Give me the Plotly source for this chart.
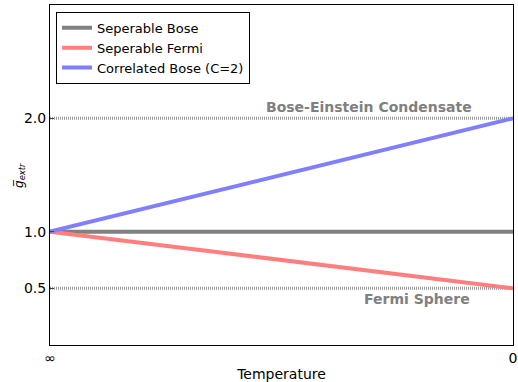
import plotly.graph_objects as go

x_pos = [0, 1]
x_ticklabels = ["∞", "0"]
sep_bose = [1.0, 1.0]
sep_fermi = [1.0, 0.5]
corr_bose = [1.0, 2.0]
ref_levels = [2.0, 0.5]
y_ticks = [0.5, 1.0, 2.0]

fig = go.Figure()
for lvl in ref_levels:
    fig.add_trace(go.Scatter(x=x_pos, y=[lvl, lvl], mode="lines", showlegend=False,
                             line=dict(color="#999999", width=3, dash="1px,1px"), hoverinfo="skip"))
fig.add_trace(go.Scatter(x=x_pos, y=sep_bose, mode="lines", name="Seperable Bose",
                         line=dict(color="#808080", width=4)))
fig.add_trace(go.Scatter(x=x_pos, y=sep_fermi, mode="lines", name="Seperable Fermi",
                         line=dict(color="#ff7f7f", width=4)))
fig.add_trace(go.Scatter(x=x_pos, y=corr_bose, mode="lines", name="Correlated Bose (C=2)",
                         line=dict(color="#7f7fff", width=4)))

fig.add_annotation(x=0.916, y=2.1, xref="x", yref="y", text="<b>Bose-Einstein Condensate</b>",
                   showarrow=False, xanchor="right", yanchor="middle",
                   font=dict(family="DejaVu Sans", size=14, color="#808080"))
fig.add_annotation(x=0.911, y=0.405, xref="x", yref="y", text="<b>Fermi Sphere</b>",
                   showarrow=False, xanchor="right", yanchor="middle",
                   font=dict(family="DejaVu Sans", size=14, color="#808080"))
fig.add_annotation(x=-0.065, y=0.5, xref="paper", yref="paper",
                   text="<i>g̅</i><sub><i>extr</i></sub>", textangle=-90,
                   showarrow=False, xanchor="center", yanchor="middle",
                   font=dict(family="DejaVu Sans", size=12, color="black"))

fig.update_layout(
    width=518, height=382,
    margin=dict(l=50, r=5, t=5, b=37),
    plot_bgcolor="white", paper_bgcolor="white",
    font=dict(family="DejaVu Sans", color="black", size=14),
    legend=dict(x=0.013, y=0.98, xanchor="left", yanchor="top",
                bordercolor="black", borderwidth=1, bgcolor="white",
                font=dict(size=13), tracegroupgap=0),
    xaxis=dict(range=[0, 1], tickvals=x_pos, ticktext=x_ticklabels, showgrid=False,
               zeroline=False, showline=True, linecolor="black", linewidth=1, mirror=True,
               ticks="inside", ticklen=4, tickfont=dict(size=14), automargin=False,
               title=dict(text="Temperature", font=dict(size=14), standoff=4)),
    yaxis=dict(range=[0, 3], tickvals=y_ticks, ticktext=["0.5", "1.0", "2.0"], showgrid=False,
               zeroline=False, showline=True, linecolor="black", linewidth=1, mirror=True,
               ticks="inside", ticklen=4, tickfont=dict(size=14), automargin=False),
)

fig.write_html("out.html")
